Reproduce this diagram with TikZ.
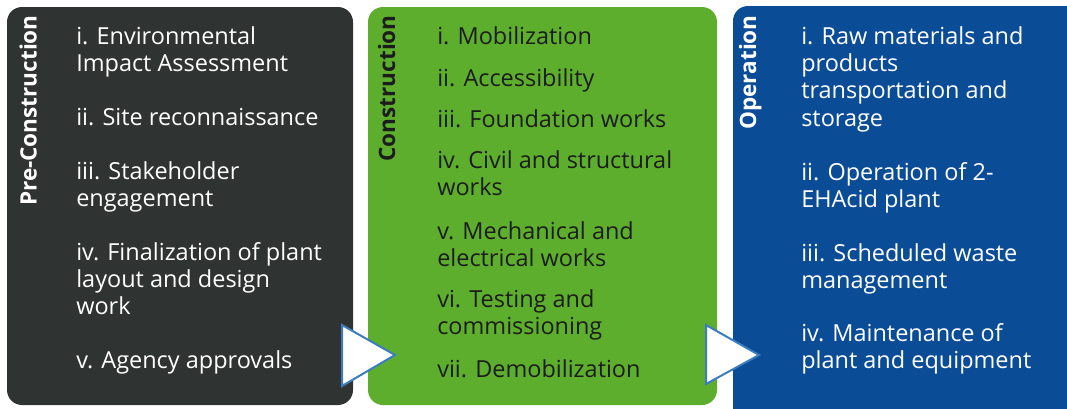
\documentclass[tikz,border=0pt]{standalone}
\usepackage{fontspec}
\setmainfont{Open Sans}
\begin{document}
\begin{tikzpicture}[x=0.75pt,y=-0.75pt]
\definecolor{panelDark}{HTML}{2F3331}
\definecolor{panelGreen}{HTML}{5EAE2E}
\definecolor{panelBlue}{HTML}{0B4C97}
\definecolor{triEdge}{HTML}{3C7DC0}
\definecolor{inkDark}{HTML}{1C1C1C}
\tikzset{
  panel/.style={rounded corners=15pt*0.75},
  vlabel/.style={rotate=90, inner sep=0pt, font=\bfseries\fontsize{16.9}{20}\selectfont},
  entry/.style={anchor=base west, inner sep=0pt, font=\fontsize{17.6}{20.5}\selectfont},
  chevron/.style={draw=triEdge, line width=1.5pt, fill=white, line join=miter},
}
\useasboundingbox (0,0) rectangle (1067,408);
\begin{scope}
\clip (0,0) rectangle (1067,408);
% three phase panels
\fill[panel, panelDark]  (7,7) rectangle (353,405);
\fill[panel, panelGreen] (368,7) rectangle (717,405);
\fill[panel, panelBlue]  (733,6) rectangle (1090,430);
\end{scope}

% phase titles
\node[vlabel, white, anchor=base east] (tpre) at (36.5,15) {Pre-Construction};
\node[vlabel, inkDark, anchor=base east] (tcon) at (395,15) {Construction};
\node[vlabel, white, anchor=base east] (top) at (756,15) {Operation};

% pre-construction items
\begin{scope}[every node/.style={entry, text=white}]
\node (p1) at (76,44.3) {i. Environmental};
\node (p2) at (76,71.7) {Impact Assessment};
\node (p3) at (76,125) {ii. Site reconnaissance};
\node (p4) at (76,179) {iii. Stakeholder};
\node (p5) at (76,206.3) {engagement};
\node (p6) at (76,260) {iv. Finalization of plant};
\node (p7) at (76,287.3) {layout and design};
\node (p8) at (76,314.6) {work};
\node (p9) at (76,368) {v. Agency approvals};
\end{scope}

% construction items
\begin{scope}[every node/.style={entry, text=inkDark}]
\node (c1) at (437,44) {i. Mobilization};
\node (c2) at (437,86) {ii. Accessibility};
\node (c3) at (437,127) {iii. Foundation works};
\node (c4) at (437,168) {iv. Civil and structural};
\node (c5) at (437,195.3) {works};
\node (c6) at (437,239) {v. Mechanical and};
\node (c7) at (437,266.3) {electrical works};
\node (c8) at (437,307) {vi. Testing and};
\node (c9) at (437,334.3) {commissioning};
\node (c10) at (437,377) {vii. Demobilization};
\end{scope}

% operation items
\begin{scope}[every node/.style={entry, text=white}]
\node (o1) at (801,44.3) {i. Raw materials and};
\node (o2) at (801,71.6) {products};
\node (o3) at (801,98.9) {transportation and};
\node (o4) at (801,126.2) {storage};
\node (o5) at (801,180) {ii. Operation of 2-};
\node (o6) at (801,207.3) {EHAcid plant};
\node (o7) at (801,261) {iii. Scheduled waste};
\node (o8) at (801,288.3) {management};
\node (o9) at (801,341.5) {iv. Maintenance of};
\node (o10) at (801,368.8) {plant and equipment};
\end{scope}

% flow chevrons between phases
\draw[chevron] (342,325) -- (395,355) -- (342,386) -- cycle;
\draw[chevron] (706,325) -- (759,355) -- (706,384) -- cycle;
\end{tikzpicture}
\end{document}
